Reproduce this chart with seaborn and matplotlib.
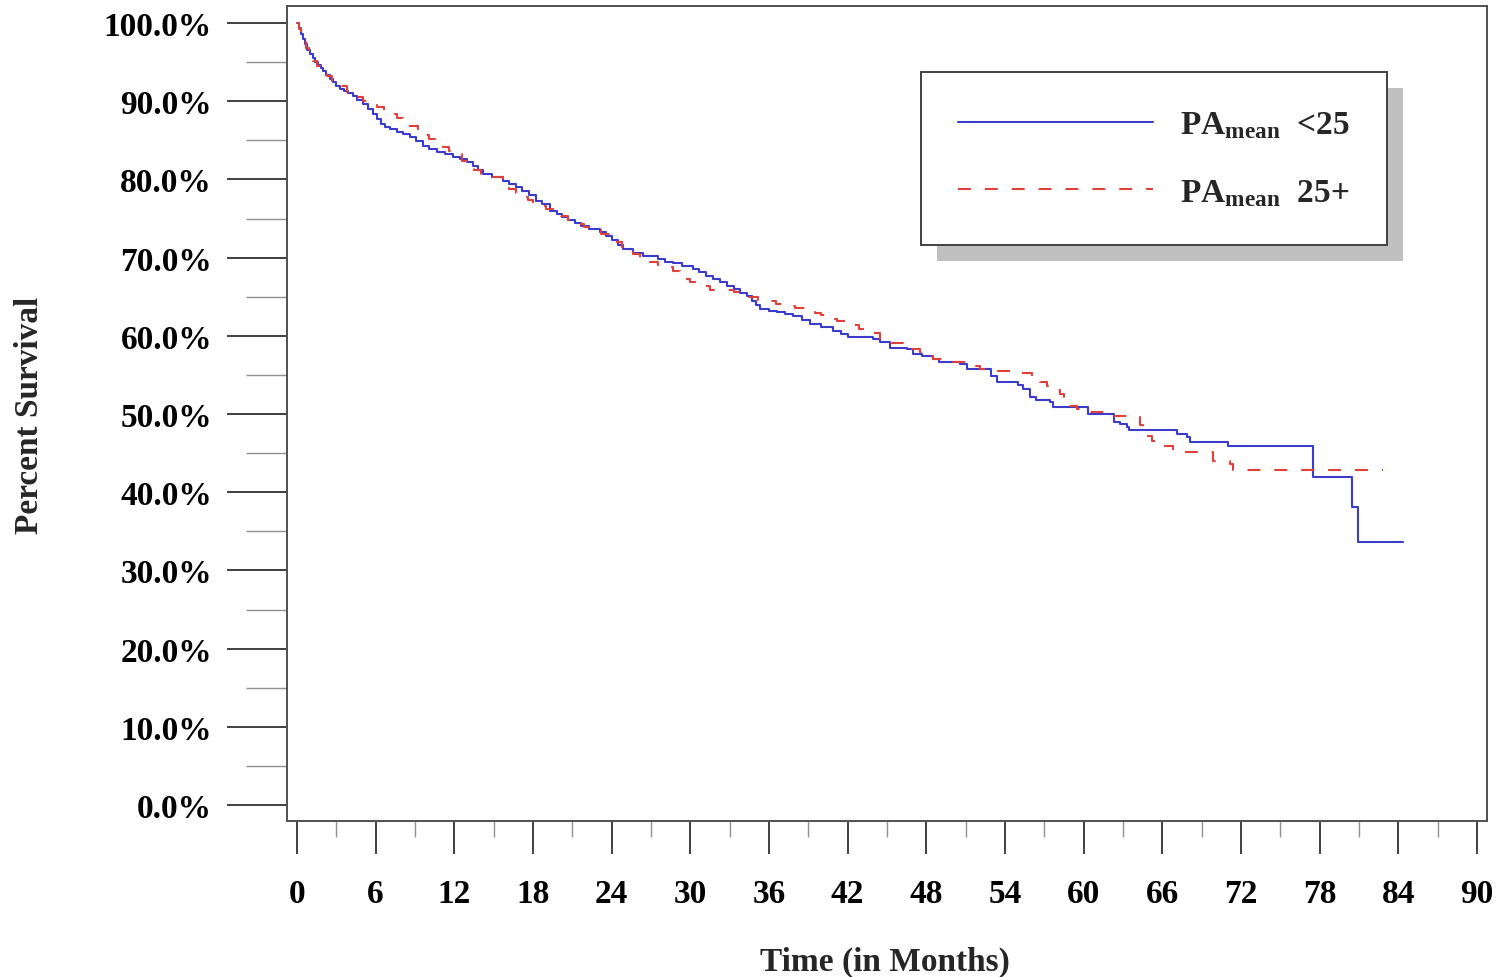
import matplotlib
matplotlib.use("Agg")
import matplotlib.pyplot as plt
import numpy as np
import pandas as pd
import seaborn as sns
from matplotlib.patches import Rectangle
from matplotlib.ticker import MultipleLocator, FuncFormatter

# ---- data ----
low_time = [0, 0.15, 0.3, 0.45, 0.6, 0.8, 1.0, 1.2, 1.4, 1.6, 1.8, 2.0, 2.25, 2.5, 2.75,
            3.0, 3.3, 3.6, 3.9, 4.3, 4.6, 5.0, 5.4, 5.8, 6.1, 6.4, 6.7, 7.1, 7.6, 8.1,
            8.6, 9.1, 9.6, 10.1, 10.7, 11.3, 11.9, 12.4, 13.0, 13.4, 13.8, 14.2, 14.9,
            15.7, 16.2, 16.7, 17.2, 17.7, 18.2, 18.7, 19.3, 19.8, 20.2, 20.7, 21.2, 21.7,
            22.3, 23.1, 23.6, 24.0, 24.5, 24.9, 25.6, 26.4, 27.5, 28.1, 28.7, 29.4, 30.2,
            30.7, 31.2, 31.7, 32.3, 32.8, 33.3, 33.8, 34.3, 34.7, 35.0, 35.3, 36.0, 36.6,
            37.2, 37.8, 38.5, 39.1, 40.0, 40.9, 41.5, 42.0, 43.9, 44.5, 45.2, 46.5, 47.0,
            47.7, 48.5, 49.0, 50.6, 51.1, 52.9, 53.4, 55.0, 55.4, 55.9, 56.4, 57.4, 57.7,
            60.3, 62.3, 62.8, 63.3, 63.5, 67.1, 67.9, 68.1, 71.0, 77.5, 80.5, 80.9, 84.4]
low_surv = [100, 99.3, 98.6, 97.9, 97.3, 96.6, 96.0, 95.5, 95.0, 94.6, 94.2, 93.8, 93.3,
            92.8, 92.4, 92.0, 91.6, 91.3, 91.0, 90.7, 90.2, 89.6, 89.0, 88.3, 87.7, 87.1,
            86.7, 86.4, 86.1, 85.8, 85.4, 84.9, 84.3, 83.9, 83.5, 83.2, 82.9, 82.6, 82.2,
            81.7, 81.2, 80.7, 80.3, 79.8, 79.4, 79.0, 78.5, 78.0, 77.3, 76.8, 76.0, 75.6,
            75.2, 74.8, 74.4, 74.0, 73.6, 73.3, 72.8, 72.3, 71.6, 71.1, 70.6, 70.2, 69.8,
            69.5, 69.3, 68.9, 68.5, 68.1, 67.7, 67.3, 66.9, 66.4, 66.0, 65.5, 65.1, 64.5,
            64.0, 63.4, 63.2, 63.0, 62.8, 62.5, 62.0, 61.5, 61.1, 60.6, 60.2, 59.8, 59.6,
            59.2, 58.4, 58.3, 57.7, 57.4, 57.0, 56.6, 56.4, 55.8, 54.9, 54.1, 53.7, 53.2,
            52.2, 51.8, 51.5, 50.9, 50.0, 49.0, 48.7, 48.3, 48.0, 47.4, 47.0, 46.4, 45.9,
            42.0, 38.1, 33.6, 33.6]

high_time = [0, 0.15, 0.3, 0.5, 0.7, 0.95, 1.2, 1.5, 1.9, 2.3, 2.7, 3.2, 3.8, 4.4, 5.0,
             5.5, 6.1, 6.6, 7.1, 7.6, 8.1, 8.6, 9.2, 9.6, 10.1, 10.6, 11.1, 11.6, 12.2,
             12.6, 13.0, 13.5, 14.0, 14.8, 15.7, 16.2, 16.7, 17.2, 17.6, 18.0, 18.5, 19.0,
             19.5, 20.1, 20.7, 21.3, 21.9, 22.5, 23.2, 23.9, 24.4, 24.8, 25.2, 25.6, 26.2,
             26.9, 27.5, 28.2, 28.7, 29.2, 29.6, 30.0, 30.7, 31.5, 33.3, 33.9, 34.5, 35.2,
             35.9, 36.5, 37.1, 38.0, 38.9, 39.5, 40.0, 40.6, 41.2, 42.0, 42.9, 43.7, 44.5,
             45.3, 46.2, 46.9, 47.5, 48.0, 48.5, 50.0, 51.0, 52.1, 53.5, 55.1, 56.1, 56.7,
             57.2, 57.7, 58.2, 58.5, 58.7, 59.5, 60.3, 61.8, 64.3, 64.5, 64.8, 65.2, 65.6,
             66.8, 69.9, 71.2, 71.4, 82.8]
high_surv = [100, 99.2, 98.4, 97.6, 96.8, 96.0, 95.1, 94.5, 93.8, 93.2, 92.6, 91.9, 91.2,
             90.6, 90.0, 89.6, 89.2, 88.7, 88.3, 87.8, 87.3, 86.8, 86.2, 85.7, 85.2, 84.7,
             84.1, 83.6, 83.2, 82.4, 81.7, 81.2, 80.7, 80.3, 79.7, 78.8, 78.3, 77.8, 77.4,
             77.1, 76.6, 76.2, 75.8, 75.3, 74.8, 74.3, 73.9, 73.5, 73.0, 72.5, 72.0, 71.4,
             70.9, 70.5, 70.0, 69.4, 69.1, 68.8, 68.3, 67.8, 67.3, 66.9, 66.4, 65.9, 65.6,
             65.2, 64.9, 64.6, 64.4, 64.1, 63.8, 63.5, 63.2, 62.9, 62.6, 62.2, 61.9, 61.4,
             60.9, 60.4, 59.6, 59.1, 58.7, 58.3, 57.9, 57.4, 57.0, 56.6, 56.1, 55.8, 55.5,
             55.2, 54.7, 54.1, 53.6, 53.1, 52.6, 51.8, 51.0, 50.6, 50.3, 49.8, 48.6, 47.9,
             47.2, 46.5, 45.9, 45.1, 44.0, 43.6, 42.8, 42.8]

groups = ["<25", "25+"]
legend_labels = [r"PA$_{\mathbf{mean}}$  <25", r"PA$_{\mathbf{mean}}$  25+"]
x_ticks = list(range(0, 91, 6))
y_ticks = list(range(0, 101, 10))

# ---- style ----
sns.set_style("white")
plt.rcParams['font.family'] = ['Liberation Serif', 'DejaVu Serif']
plt.rcParams['font.weight'] = 'bold'
plt.rcParams['mathtext.fontset'] = 'custom'
plt.rcParams['mathtext.rm'] = 'Liberation Serif:bold'
plt.rcParams['mathtext.bf'] = 'Liberation Serif:bold'
plt.rcParams['mathtext.it'] = 'Liberation Serif:bold'

df = pd.concat([
    pd.DataFrame({"time": low_time, "surv": low_surv, "group": groups[0]}),
    pd.DataFrame({"time": high_time, "surv": high_surv, "group": groups[1]}),
], ignore_index=True)

W, H = 1498, 978
fig = plt.figure(figsize=(W / 100, H / 100), dpi=100)
ax = fig.add_axes([287 / W, (H - 822) / H, 1200 / W, 815 / H])

sns.lineplot(data=df, x="time", y="surv", hue="group", style="group",
             hue_order=groups, style_order=groups,
             palette={"<25": "#3b3bcc", "25+": "#e0403a"},
             dashes={"<25": "", "25+": (6.2, 6.7)},
             estimator=None, sort=False, drawstyle="steps-post",
             linewidth=1.5, legend=False, ax=ax)

# axes limits and ticks
x0 = -10 / 13.11
ax.set_xlim(x0, x0 + 1200 / 13.11)
ax.set_ylim(-16 / 7.82, 100 + 17 / 7.82)
ax.set_xticks(x_ticks)
ax.set_yticks(y_ticks)
ax.xaxis.set_minor_locator(MultipleLocator(3))
ax.yaxis.set_minor_locator(MultipleLocator(5))
ax.yaxis.set_major_formatter(FuncFormatter(lambda v, p: f"{v:.1f}%"))
ax.xaxis.set_major_formatter(FuncFormatter(lambda v, p: f"{int(v)}"))

ax.tick_params(axis="y", which="major", direction="out", length=43, width=1.4,
               color="#404040", pad=11, labelsize=24, labelcolor="black", left=True)
ax.tick_params(axis="y", which="minor", direction="out", length=29.5, width=1.0,
               color="#909090", left=True)
ax.tick_params(axis="x", which="major", direction="out", length=24, width=1.4,
               color="#404040", pad=17, labelsize=24, labelcolor="black", bottom=True)
ax.tick_params(axis="x", which="minor", direction="out", length=11.5, width=1.0,
               color="#909090", bottom=True)
for lab in ax.get_xticklabels() + ax.get_yticklabels():
    lab.set_fontweight("bold")

for sp in ax.spines.values():
    sp.set_visible(True)
    sp.set_color("#505050")
    sp.set_linewidth(1.4)

ax.set_xlabel("Time (in Months)", fontsize=24, fontweight="bold")
ax.set_ylabel("Percent Survival", fontsize=24, fontweight="bold")
ax.xaxis.set_label_coords((885 - 287) / 1200, (822 - 947) / 815)
ax.yaxis.set_label_coords((45 - 287) / 1200, (822 - 415) / 815)

# legend
handles = ax.lines[:2]
leg = ax.legend(handles, legend_labels, loc="upper right",
                bbox_to_anchor=((1387 - 287) / 1200, (822 - 73) / 815),
                borderaxespad=0, frameon=True, fancybox=False, framealpha=1,
                edgecolor="#404040", fontsize=24, handlelength=5.85,
                handletextpad=0.8, borderpad=1.12, labelspacing=1.1)
leg.get_frame().set_linewidth(1.4)
for t in leg.get_texts():
    t.set_fontweight("bold")

fig.canvas.draw()
bb = leg.get_window_extent()
inv = ax.transAxes.inverted()
(ax0, ay0) = inv.transform((bb.x0 + 16, bb.y0 - 16))
(ax1, ay1) = inv.transform((bb.x1 + 16, bb.y1 - 16))
shadow = Rectangle((ax0, ay0), ax1 - ax0, ay1 - ay0, transform=ax.transAxes,
                   facecolor="#c0c0c0", edgecolor="none", zorder=leg.get_zorder() - 0.5)
ax.add_patch(shadow)

fig.savefig("out.png", dpi=100)
